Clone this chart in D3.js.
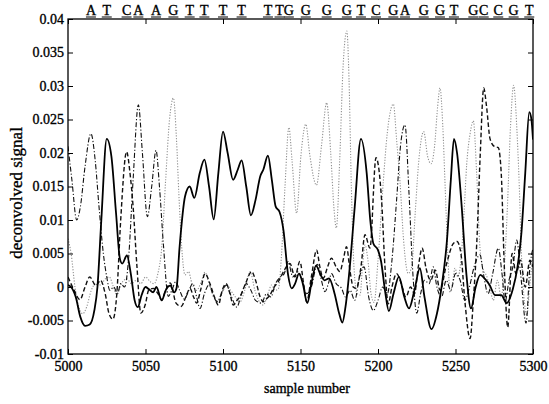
<!DOCTYPE html>
<html lang="en">
<head>
<meta charset="UTF-8" />
<script src="https://cdnjs.cloudflare.com/ajax/libs/d3/7.8.5/d3.min.js"></script>
<title>deconvolved signal</title>
<style>
  body { margin: 0; background: #fff; }
  svg { display: block; font-family: 'Liberation Serif', 'Times New Roman', serif; }
</style>
</head>
<body>
<div class="chart"></div>
<script>
// axis ticks
const xTicks = [5000, 5050, 5100, 5150, 5200, 5250, 5300]
const yTicks = [0.04, 0.035, 0.03, 0.025, 0.02, 0.015, 0.01, 0.005, 0, -0.005, -0.01]
const yTickLabels = ['0.04', '0.035', '0.03', '0.025', '0.02', '0.015', '0.01', '0.005', '0', '-0.005', '-0.01']

// base calls along the top, at the sample of each peak
const baseLetters = ['A','T','C','A','A','G','T','T','T','T','T','T','G','G','G','G','T','C','G','A','G','G','T','G','C','C','G','T']
const baseSamples = [5014.8, 5025, 5037.8, 5045.4, 5056.8, 5068, 5078.5, 5088, 5100, 5112, 5129, 5136.5, 5142.5, 5153.4, 5166.9, 5179.9, 5189, 5198.7, 5209.9, 5217.4, 5229.5, 5240, 5249, 5261.5, 5268.2, 5277.6, 5287.5, 5297.6]

// T channel (solid)
const signalT = [
  [5000, 0.0003], [5002, 0], [5005, -0.0015], [5008, -0.0045], [5011, -0.0058], [5014, -0.0056],
  [5017, -0.0035], [5019, 0], [5021.5, 0.010], [5025, 0.0221], [5028, 0.0195], [5031, 0.011],
  [5033.5, 0.0042], [5035, 0.0035], [5038, 0.0047], [5040.5, 0.002], [5043, -0.002], [5045, -0.003],
  [5047.5, -0.0012], [5050, 0], [5052, -0.0003], [5055, -0.0008], [5057, 0], [5060.5, -0.002],
  [5063, -0.0005], [5066, 0.0002], [5068.5, -0.0008], [5070, -0.0002], [5072, 0.006], [5075.5, 0.0135],
  [5078.5, 0.015], [5081.5, 0.0133], [5085, 0.017], [5088, 0.019], [5091, 0.015], [5094, 0.0101],
  [5097, 0.017], [5100, 0.0232], [5103, 0.020], [5106.5, 0.016], [5109.5, 0.0175], [5112, 0.0189],
  [5115, 0.015], [5118, 0.0107], [5121, 0.013], [5124, 0.0165], [5126, 0.0175], [5129, 0.0196],
  [5131.5, 0.016], [5134, 0.012], [5136.5, 0.0112], [5139, 0.0085], [5142, 0.0018], [5144.3, -0.0002],
  [5146.5, 0.0005], [5149, 0.002], [5151.5, 0.0005], [5154.4, -0.0024], [5157, 0.0005], [5160, 0.0032],
  [5163, 0.0018], [5165.5, 0.001], [5168.5, 0.0013], [5172, -0.001], [5175, -0.004], [5177, -0.0053],
  [5179, -0.003], [5182, 0.0035], [5185, 0.012], [5189, 0.0221], [5192.7, 0.017], [5195, 0.010],
  [5197, 0.0065], [5200, 0.0055], [5202, 0.0038], [5204.5, -0.0005], [5207, -0.0036], [5210, -0.001],
  [5213.5, 0.0015], [5217, -0.0015], [5220, -0.0032], [5223.5, -0.0005], [5227, 0.0028], [5230, -0.0015],
  [5234.5, -0.0063], [5238, -0.004], [5241, 0], [5244.5, 0.007], [5247, 0.016], [5249, 0.0221],
  [5251, 0.020], [5254, 0.012], [5257, 0.002], [5260, -0.0032], [5263, 0], [5266, 0.0018],
  [5269, 0.0012], [5272, 0.0003], [5275.5, -0.0012], [5279.5, -0.0012], [5283, -0.0024], [5287, -0.0003],
  [5290, 0.003], [5292.5, 0.008], [5295, 0.017], [5297.6, 0.0261], [5299, 0.025], [5300, 0.022]
]

// C channel (dashed)
const signalC = [
  [5000, 0.0015], [5004, -0.0005], [5007.7, -0.0019], [5011, 0], [5014, 0.0015], [5018, 0.0002],
  [5021, 0.001], [5024, -0.001], [5026.5, -0.004], [5029, -0.0048], [5031.5, -0.001], [5034, 0.010],
  [5037.8, 0.0202], [5040, 0.017], [5042, 0.012], [5044.5, 0.003], [5047, -0.0039], [5050, -0.0025],
  [5052, -0.0005], [5055, -0.0002], [5058, -0.001], [5060.5, -0.0019], [5063, -0.0005], [5066, 0.0006],
  [5069.7, -0.0024], [5073, -0.0029], [5076, -0.0015], [5078.7, -0.0002], [5081, -0.0015], [5083, -0.0024],
  [5085.5, -0.0005], [5088.4, 0.002], [5091.6, 0.0005], [5094.5, -0.0015], [5097, -0.0027], [5099.5, -0.0005],
  [5102, 0.0005], [5104.5, -0.001], [5106.6, -0.0027], [5109, -0.002], [5111, -0.0014], [5114.5, 0.0005],
  [5118.5, 0.0023], [5121, 0.001], [5124, -0.0015], [5126, -0.0022], [5128, -0.0018], [5130.3, -0.0012],
  [5133, 0], [5135.7, 0.0008], [5139.5, 0.0025], [5143.2, 0.0035], [5146.4, 0.0015], [5149.6, 0.0038],
  [5152, 0.0005], [5154, -0.0022], [5157, 0.0015], [5160.4, 0.0055], [5162.5, 0.003], [5164.7, 0.0013],
  [5167.5, 0.003], [5170, 0.0043], [5173, 0.003], [5175.4, 0.0023], [5177.5, 0.004], [5179.7, 0.006],
  [5182, 0.0023], [5184, 0], [5186, -0.0002], [5189, 0.003], [5191.6, 0.0078], [5194.8, 0.0058],
  [5198.7, 0.0193], [5202.3, 0.013], [5204.5, 0.003], [5206.6, -0.0025], [5209, 0], [5212, 0.002],
  [5215, 0.0005], [5218, -0.0015], [5221, 0], [5223.5, -0.001], [5226, 0.003], [5228.5, 0.0058],
  [5231, 0.0028], [5234, 0.001], [5237, 0.0025], [5240, -0.0005], [5244.3, 0.0035], [5248.6, 0.0065],
  [5251, 0.0068], [5253.5, 0.005], [5256, -0.002], [5259.4, -0.0077], [5261.5, -0.002], [5263.7, 0.0065],
  [5266, 0.020], [5268.2, 0.0297], [5270, 0.027], [5272.3, 0.0221], [5275, 0.021], [5277.6, 0.0208],
  [5279.5, 0.017], [5281.5, 0.003], [5283.7, -0.006], [5286.5, 0.005], [5289, 0.002], [5292, 0.004],
  [5295, 0], [5298, 0.004], [5300, 0.003]
]

// A channel (dash-dot)
const signalA = [
  [5000, 0.021], [5002.5, 0.016], [5005.6, 0.010], [5008, 0.012], [5011, 0.018], [5014.8, 0.0229],
  [5017.5, 0.019], [5020, 0.012], [5022.8, 0.005], [5025, 0.0015], [5027, -0.0005], [5029.5, 0],
  [5032, -0.001], [5034, 0.0005], [5036.5, 0], [5039, 0.004], [5042, 0.016], [5045.4, 0.0272],
  [5048, 0.020], [5051.2, 0.0105], [5054, 0.015], [5056.8, 0.0204], [5059, 0.015], [5061.5, 0.0065],
  [5064.7, -0.0014], [5067, -0.0005], [5069.5, 0.0008], [5072, -0.0005], [5075, -0.0018], [5078, -0.0005],
  [5080.5, 0.0005], [5083, -0.0015], [5085.2, -0.0032], [5088, -0.001], [5091, 0.0003], [5094, -0.0015],
  [5096.5, -0.0022], [5099, -0.001], [5102, 0.0003], [5105.5, -0.0015], [5108.9, -0.003], [5112, -0.001],
  [5115, 0.0005], [5118, -0.0005], [5121, -0.002], [5124.9, -0.0024], [5128, -0.001], [5131, -0.0015],
  [5133.5, 0.0003], [5137, 0.0015], [5139.5, 0.002], [5142, 0.0038], [5145, 0.0015], [5148.6, 0.0023],
  [5151.5, 0.0005], [5154, -0.001], [5157, 0], [5160.8, 0.0034], [5163, 0.0015], [5165.8, -0.0007],
  [5168, 0.0005], [5170, 0.002], [5173, 0.0005], [5176.5, -0.0002], [5179, -0.0015], [5182, -0.0005],
  [5185, -0.002], [5188, 0.0015], [5191, 0.003], [5194, -0.0015], [5197, -0.0035], [5200, -0.002],
  [5203, 0], [5206, -0.001], [5209, 0.004], [5212, 0.013], [5214.5, 0.021], [5217.4, 0.0242],
  [5220, 0.014], [5222.5, 0.002], [5225, -0.0039], [5227.5, -0.001], [5230, 0.001], [5233, 0.0005],
  [5235.6, 0.003], [5238, 0], [5241, -0.0015], [5244, 0.001], [5247, -0.0005], [5250, 0.002],
  [5253, 0.001], [5256, -0.002], [5259, 0], [5262, 0.003], [5265.8, 0.0048], [5268, 0.002],
  [5271, -0.001], [5274, 0.002], [5277.6, 0.0058], [5280, 0.002], [5282, -0.0022], [5284.5, 0.001],
  [5287, 0.003], [5289.5, 0.007], [5292, 0.002], [5295.5, -0.0054], [5298, 0.003], [5300, 0.0058]
]

// G channel (dotted, grey)
const signalG = [
  [5000, 0.0072], [5002, 0.005], [5004.5, 0], [5007, -0.003], [5009.5, -0.004], [5012, -0.003],
  [5015, -0.0005], [5018, 0.0005], [5021, 0.0003], [5024, 0.0012], [5026.7, 0.0015], [5029, 0.0002],
  [5031, -0.001], [5033, -0.0003], [5035.3, 0.0008], [5038, 0.0012], [5041, 0.0005], [5044, 0.001],
  [5047, 0.0005], [5050, 0.0015], [5053, 0.0008], [5055.5, 0.0005], [5058, 0.002], [5060.5, 0.006],
  [5063, 0.016], [5065.5, 0.025], [5068, 0.0282], [5070, 0.022], [5071.5, 0.014], [5073.4, 0.0058],
  [5075.5, 0.0018], [5077.7, 0.0023], [5080, 0.0005], [5083, -0.0005], [5086, 0.0008], [5088.4, 0.0022],
  [5091, 0.0005], [5093.5, -0.001], [5096, -0.0022], [5099, -0.001], [5102.6, 0.0003], [5105, -0.0005],
  [5108, -0.0015], [5111, -0.0022], [5114, -0.0005], [5117.5, 0.0023], [5120.6, -0.0005], [5123, -0.002],
  [5126, -0.0027], [5129, -0.001], [5131.4, 0.0003], [5133.5, -0.0005], [5135.7, -0.0003], [5137.8, 0.005],
  [5140, 0.015], [5142.5, 0.0238], [5144.5, 0.019], [5147.5, 0.011], [5150.3, 0.0197], [5153.4, 0.0243],
  [5156, 0.0197], [5160.3, 0.0152], [5163.6, 0.0212], [5166.9, 0.0275], [5169.5, 0.020], [5171.5, 0.012],
  [5173.1, 0.0088], [5175.3, 0.019], [5177.5, 0.033], [5179.9, 0.0382], [5181.3, 0.031], [5182.8, 0.015],
  [5184.5, 0.003], [5186.5, -0.001], [5188.4, -0.0012], [5190, 0.003], [5191.6, 0.0063], [5193.5, 0.004],
  [5195.5, -0.001], [5197.5, -0.0023], [5200, 0.004], [5203.4, 0.0157], [5206, 0.023], [5209.9, 0.0273],
  [5212, 0.022], [5214.2, 0.0157], [5216.5, 0.007], [5219.5, 0.002], [5221.7, 0.003], [5224, 0.011],
  [5226, 0.018], [5229.5, 0.0232], [5232, 0.0195], [5234.3, 0.0184], [5236.5, 0.021], [5238.5, 0.027],
  [5240, 0.0297], [5241.8, 0.024], [5243.2, 0.0157], [5245, 0.005], [5246.5, -0.0008], [5248, 0.0005],
  [5249.7, 0.0028], [5251.5, 0.0015], [5253.5, 0.004], [5255.5, 0.011], [5257.2, 0.0182], [5259.5, 0.023],
  [5261.5, 0.0248], [5263.7, 0.0167], [5265.8, 0.0058], [5268, 0.0025], [5270, 0.0017], [5272.5, -0.0005],
  [5274.4, -0.002], [5277, 0.001], [5279.5, -0.0015], [5281.5, 0.003], [5283.5, 0.012], [5285.5, 0.024],
  [5287.5, 0.0301], [5289.5, 0.024], [5291, 0.016], [5292.7, 0.004], [5294, -0.001], [5296, -0.0042],
  [5298, 0.0005], [5300, 0.005]
]

const series = [
  { name: 'G', data: signalG, color: '#8f8f8f', width: 1.1, dash: '1.2,1.6' },
  { name: 'A', data: signalA, color: '#111', width: 1.1, dash: '5,2,1.2,2' },
  { name: 'C', data: signalC, color: '#111', width: 1.4, dash: '4.5,2.5' },
  { name: 'T', data: signalT, color: '#000', width: 1.8, dash: null }
]

const svgWidth = 549
const svgHeight = 404
const margin = { top: 19, right: 16, bottom: 50, left: 68 }
const plotW = svgWidth - margin.left - margin.right
const plotH = svgHeight - margin.top - margin.bottom

const svg = d3.select('.chart').append('svg')
  .attr('width', svgWidth)
  .attr('height', svgHeight)

const g = svg.append('g').attr('transform', `translate(${margin.left},${margin.top})`)

const xScale = d3.scaleLinear().domain([5000, 5300]).range([0, plotW])
const yScale = d3.scaleLinear().domain([-0.01, 0.04]).range([plotH, 0])

// clip the traces to the box
g.append('clipPath').attr('id', 'plotClip')
  .append('rect').attr('width', plotW).attr('height', plotH)

const line = d3.line()
  .x(d => xScale(d[0]))
  .y(d => yScale(d[1]))
  .curve(d3.curveMonotoneX)

g.append('g').attr('clip-path', 'url(#plotClip)')
  .selectAll('path')
  .data(series)
  .join('path')
  .attr('d', d => line(d.data))
  .attr('fill', 'none')
  .attr('stroke', d => d.color)
  .attr('stroke-width', d => d.width)
  .attr('stroke-dasharray', d => d.dash)
  .attr('stroke-linejoin', 'round')

// axes, ticks pointing inward on all four sides
const tickLen = 5
const bottomAxis = d3.axisBottom(xScale).tickValues(xTicks).tickFormat(d3.format('d')).tickSize(-tickLen).tickPadding(7)
const topAxis = d3.axisTop(xScale).tickValues(xTicks).tickFormat('').tickSize(-tickLen)
const leftAxis = d3.axisLeft(yScale).tickValues(yTicks).tickFormat((d, i) => yTickLabels[i]).tickSize(-tickLen).tickPadding(4)
const rightAxis = d3.axisRight(yScale).tickValues(yTicks).tickFormat('').tickSize(-tickLen)

const axG = [
  g.append('g').attr('transform', `translate(0,${plotH})`).call(bottomAxis),
  g.append('g').call(topAxis),
  g.append('g').call(leftAxis),
  g.append('g').attr('transform', `translate(${plotW},0)`).call(rightAxis)
]
axG.forEach(a => {
  a.select('.domain').remove()
  a.selectAll('line').attr('stroke', '#000').attr('stroke-width', 1)
  a.selectAll('text')
    .attr('fill', '#000')
    .attr('stroke', '#000')
    .attr('stroke-width', 0.35)
    .style('font-family', "'Liberation Serif', serif")
    .style('font-size', '14px')
})

g.append('rect')
  .attr('width', plotW).attr('height', plotH)
  .attr('fill', 'none').attr('stroke', '#000').attr('stroke-width', 1.3)

// base letters above the box
const letters = g.append('g')
letters.selectAll('text')
  .data(baseLetters)
  .join('text')
  .attr('x', (d, i) => xScale(baseSamples[i]))
  .attr('y', -4)
  .attr('text-anchor', 'middle')
  .attr('stroke', '#000')
  .attr('stroke-width', 0.35)
  .style('font-size', '14px')
  .text(d => d)
letters.selectAll('line')
  .data(baseLetters)
  .join('line')
  .attr('x1', (d, i) => xScale(baseSamples[i]) - 5)
  .attr('x2', (d, i) => xScale(baseSamples[i]) + 5)
  .attr('y1', -2).attr('y2', -2)
  .attr('stroke', '#000').attr('stroke-width', 1)

// axis titles
svg.append('text')
  .attr('x', 307)
  .attr('y', 393)
  .attr('text-anchor', 'middle')
  .attr('stroke', '#000')
  .attr('stroke-width', 0.35)
  .style('font-size', '14px')
  .text('sample number')

svg.append('text')
  .attr('transform', `translate(22,193) rotate(-90)`)
  .attr('text-anchor', 'middle')
  .attr('stroke', '#000')
  .attr('stroke-width', 0.35)
  .style('font-size', '17px')
  .text('deconvolved signal')
</script>
</body>
</html>
